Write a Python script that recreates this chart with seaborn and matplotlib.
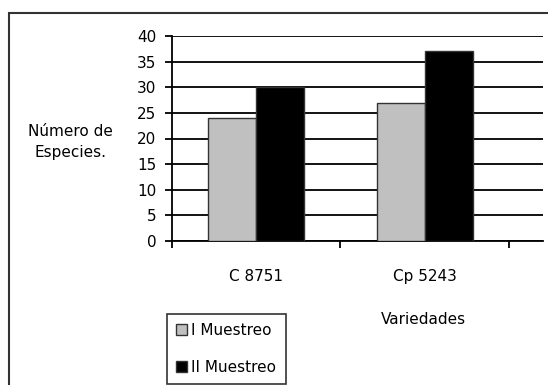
import pandas as pd
import seaborn as sns
import matplotlib.pyplot as plt
from matplotlib.patches import Rectangle
from matplotlib.ticker import FixedLocator

# === Data ===
variedades = ["C 8751", "Cp 5243"]
muestreos = ["I Muestreo", "II Muestreo"]
muestreo_1 = [24, 27]
muestreo_2 = [30, 37]
y_ticks = [0, 5, 10, 15, 20, 25, 30, 35, 40]

df = pd.DataFrame({
    "Variedad": variedades * 2,
    "Especies": muestreo_1 + muestreo_2,
    "Muestreo": [muestreos[0]] * len(variedades) + [muestreos[1]] * len(variedades),
})

# === Style ===
sns.set_style("white")
plt.rcParams["font.family"] = ["DejaVu Sans"]
plt.rcParams["text.color"] = "black"
plt.rcParams["axes.labelcolor"] = "black"
plt.rcParams["xtick.color"] = "black"
plt.rcParams["ytick.color"] = "black"
FS = 11

fig = plt.figure(figsize=(5.48, 3.85), dpi=100)
ax = fig.add_axes([171.5 / 548, 1 - 241 / 385, (543 - 171.5) / 548, (241 - 36) / 385])

sns.barplot(
    data=df, x="Variedad", y="Especies", hue="Muestreo",
    palette=["#c0c0c0", "black"], width=0.57,
    edgecolor="#333333", linewidth=1, ax=ax, zorder=3,
)

ax.set_xlim(-0.5, 1.7)
ax.set_ylim(0, 40)
ax.set_yticks(y_ticks)
ax.yaxis.grid(True, color="black", linewidth=1.3)
ax.set_axisbelow(True)

for side in ["top", "right"]:
    ax.spines[side].set_visible(False)
for side in ["left", "bottom"]:
    ax.spines[side].set_color("black")
    ax.spines[side].set_linewidth(1.3)

# category labels without marks, boundary ticks between categories
ax.tick_params(axis="x", which="major", length=0, pad=20, labelsize=FS)
ax.xaxis.set_minor_locator(FixedLocator([-0.5, 0.5, 1.5]))
ax.tick_params(axis="x", which="minor", bottom=True, length=5, width=1.3, color="black")
ax.tick_params(axis="y", left=True, length=5, width=1.3, color="black", pad=6, labelsize=FS)

ax.set_xlabel("Variedades", fontsize=FS)
ax.xaxis.set_label_coords(0.677, -0.346)
ax.set_ylabel("Número de\nEspecies.", fontsize=FS, rotation=0, ha="center", va="center",
              linespacing=1.5)
ax.yaxis.set_label_coords((70 - 171.5) / (543 - 171.5), (241 - 142) / 205)

leg = ax.legend(
    loc="upper left", bbox_to_anchor=(167 / 548, 1 - 314 / 385),
    bbox_transform=fig.transFigure, frameon=True, fancybox=False,
    fontsize=FS, handlelength=0.7, handleheight=0.7, handletextpad=0.3,
    labelspacing=1.4, borderpad=0.6, borderaxespad=0,
)
leg.get_frame().set_edgecolor("black")
leg.get_frame().set_linewidth(1.2)

# outer chart-area border (cut off at the right and bottom edges)
fig.add_artist(Rectangle((9 / 548, -0.1), 1.2, 1.1 - 13 / 385,
                         transform=fig.transFigure, fill=False,
                         edgecolor="#333333", linewidth=1.5))

plt.savefig("out.png", dpi=100)
plt.close()
